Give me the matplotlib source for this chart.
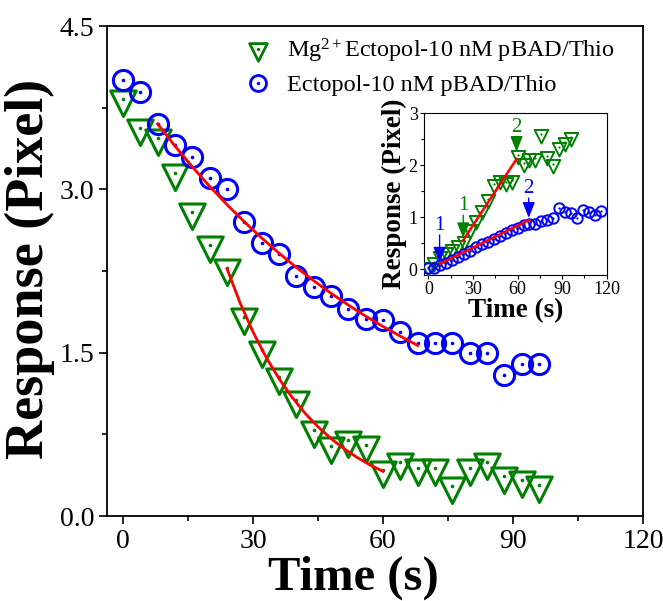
import matplotlib
matplotlib.use("Agg")
import matplotlib.pyplot as plt
from matplotlib.path import Path
from matplotlib.lines import Line2D
from matplotlib.legend_handler import HandlerTuple
from matplotlib.ticker import MultipleLocator

plt.rcParams['font.family'] = ['Liberation Serif', 'DejaVu Serif']
plt.rcParams['mathtext.fontset'] = 'custom'
plt.rcParams['mathtext.rm'] = 'Liberation Serif'
plt.rcParams['mathtext.it'] = 'Liberation Serif:italic'
plt.rcParams['mathtext.bf'] = 'Liberation Serif:bold'

# ---------------- main panel data ----------------
time_main = [0, 4, 8, 12, 16, 20, 24, 28, 32, 36, 40, 44, 48, 52, 56, 60, 64, 68, 72, 76, 80, 84, 88, 92, 96]
mg_resp = [3.83, 3.56, 3.47, 3.15, 2.79, 2.49, 2.275, 1.83, 1.525, 1.28, 1.067, 0.79, 0.64, 0.70, 0.654,
           0.425, 0.50, 0.44, 0.44, 0.28, 0.44, 0.50, 0.363, 0.327, 0.287]
ecto_resp = [4.00, 3.895, 3.596, 3.406, 3.30, 3.10, 3.00, 2.70, 2.505, 2.41, 2.20, 2.106, 2.02, 1.90, 1.81,
             1.80, 1.69, 1.59, 1.59, 1.59, 1.495, 1.495, 1.296, 1.394, 1.394]

# red fit curves
mg_fit_t = [24, 27, 30, 33, 36, 39, 42, 45, 48, 51, 54, 57, 60]
mg_fit_y = [2.27, 1.958, 1.690, 1.459, 1.261, 1.091, 0.944, 0.819, 0.711, 0.618, 0.538, 0.469, 0.410]
ecto_fit_t = [8, 12, 16, 20, 24, 28, 32, 36, 40, 44, 48, 52, 56, 60, 64, 68]
ecto_fit_y = [3.60, 3.397, 3.206, 3.027, 2.859, 2.701, 2.553, 2.414, 2.283, 2.161, 2.045, 1.937, 1.835,
              1.740, 1.651, 1.566]

# ---------------- inset data ----------------
time_in_mg = [0, 4, 8, 12, 16, 20, 24, 28, 32, 36, 40, 44, 48, 52, 56, 60, 64, 68, 72, 76, 80, 84, 88, 92, 96]
mg_in = [0.05, 0.15, 0.25, 0.33, 0.40, 0.47, 0.55, 0.78, 0.95, 1.15, 1.35, 1.65, 1.72, 1.68, 1.72,
         2.20, 2.05, 2.15, 2.15, 2.60, 2.18, 2.02, 2.35, 2.45, 2.55]
time_in_ecto = [0, 4, 8, 12, 16, 20, 24, 28, 32, 36, 40, 44, 48, 52, 56, 60, 64, 68, 72, 76, 80, 84, 88,
                92, 96, 100, 104, 108, 112, 116]
ecto_in = [0.02, 0.03, 0.08, 0.12, 0.18, 0.24, 0.30, 0.36, 0.42, 0.48, 0.53, 0.58, 0.64, 0.70, 0.75, 0.80,
           0.85, 0.88, 0.88, 0.92, 0.95, 0.98, 1.17, 1.10, 1.08, 0.98, 1.14, 1.10, 1.04, 1.12]
mg_in_fit_t = [23.4, 59.3]
mg_in_fit_y = [0.56, 2.12]
ecto_in_fit_t = [8.2, 67.8]
ecto_in_fit_y = [0.11, 0.95]

# arrows: label, x, tip y, label-bottom y, series
arrow_labels = ['1', '1', '2', '2']
arrow_x = [7.5, 23.4, 59.3, 67.5]
arrow_tip = [0.13, 0.60, 2.26, 0.99]
arrow_text_y = [0.66, 1.04, 2.55, 1.37]
arrow_series = ['ecto', 'mg', 'mg', 'ecto']

legend_labels = ['Mg$^{2+}$Ectopol-10 nM pBAD/Thio', 'Ectopol-10 nM pBAD/Thio']

GREEN = '#008000'
BLUE = '#0000ff'
RED = '#ff0000'

# triangle-down marker centred on its centroid
tri = Path([(-1, 2 / 3), (1, 2 / 3), (0, -4 / 3), (-1, 2 / 3)],
           [Path.MOVETO, Path.LINETO, Path.LINETO, Path.CLOSEPOLY])

W, H = 663, 601
fig = plt.figure(figsize=(W / 100, H / 100), dpi=100)
ax = fig.add_axes([107 / W, 1 - 516 / H, (643 - 107) / W, (516 - 26) / H])

ax.plot(time_main, mg_resp, ls='none', marker=tri, ms=24.5, mfc='none', mec=GREEN, mew=2.2, zorder=3)
ax.plot(time_main, mg_resp, ls='none', marker='o', ms=2.6, mfc=GREEN, mec=GREEN, mew=0, zorder=3)
ax.plot(time_main, ecto_resp, ls='none', marker='o', ms=14.5, mfc='none', mec=BLUE, mew=2.2, zorder=4)
ax.plot(time_main, ecto_resp, ls='none', marker='o', ms=2.6, mfc=BLUE, mec=BLUE, mew=0, zorder=4)
ax.plot(mg_fit_t, mg_fit_y, color=RED, lw=2.0, zorder=5)
ax.plot(ecto_fit_t, ecto_fit_y, color=RED, lw=2.0, zorder=5)

ax.set_xlim(-3.7, 120)
ax.set_ylim(0, 4.5)
ax.xaxis.set_major_locator(MultipleLocator(30))
ax.xaxis.set_minor_locator(MultipleLocator(15))
ax.yaxis.set_minor_locator(MultipleLocator(0.75))
ax.set_yticks([0, 1.5, 3.0, 4.5])
ax.set_yticklabels(['0.0', '1.5', '3.0', '4.5'])
ax.tick_params(which='major', direction='out', length=6, width=1.2, labelsize=20, pad=3)
ax.tick_params(which='minor', direction='out', length=3.5, width=1.2)
for s in ax.spines.values():
    s.set_linewidth(1.3)
ax.set_xlabel('Time (s)', fontsize=35, fontweight='bold', va='center')
ax.xaxis.set_label_coords((353 - 107) / 536, (516 - 578) / 490)
ax.set_ylabel('Response (Pixel)', fontsize=39, fontweight='bold', va='center')
ax.yaxis.set_label_coords((30 - 107) / 536, (516 - 269) / 490)

# legend
h1 = (Line2D([], [], ls='none', marker=tri, ms=17, mfc='none', mec=GREEN, mew=2.0),
      Line2D([], [], ls='none', marker='o', ms=2.4, mfc=GREEN, mec=GREEN, mew=0))
h2 = (Line2D([], [], ls='none', marker='o', ms=11.5, mfc='none', mec=BLUE, mew=2.0),
      Line2D([], [], ls='none', marker='o', ms=2.4, mfc=BLUE, mec=BLUE, mew=0))
fig.legend([h1, h2], legend_labels, handler_map={tuple: HandlerTuple(ndivide=1)},
           loc='upper left', bbox_to_anchor=(243 / W, 1 - 37 / H), bbox_transform=fig.transFigure,
           frameon=False, fontsize=17.5, handlelength=1.2, handletextpad=0.6,
           borderpad=0, borderaxespad=0, labelspacing=0.38)

# ---------------- inset ----------------
ai = fig.add_axes([424 / W, 1 - 274.5 / H, 182.7 / W, 161.2 / H])
ai.plot(time_in_mg, mg_in, ls='none', marker=tri, ms=13, mfc='none', mec=GREEN, mew=1.4, zorder=3)
ai.plot(time_in_mg, mg_in, ls='none', marker='o', ms=1.6, mfc=GREEN, mec=GREEN, mew=0, zorder=3)
ai.plot(time_in_ecto, ecto_in, ls='none', marker='o', ms=7.5, mfc='none', mec=BLUE, mew=1.4, zorder=4)
ai.plot(time_in_ecto, ecto_in, ls='none', marker='o', ms=1.6, mfc=BLUE, mec=BLUE, mew=0, zorder=4)
ai.plot(mg_in_fit_t, mg_in_fit_y, color=RED, lw=1.8, zorder=5)
ai.plot(ecto_in_fit_t, ecto_in_fit_y, color=RED, lw=1.8, zorder=5)

for lab, x, tip, ty, ser in zip(arrow_labels, arrow_x, arrow_tip, arrow_text_y, arrow_series):
    c = GREEN if ser == 'mg' else BLUE
    ai.text(x, ty, lab, color=c, fontsize=15, ha='center', va='bottom', zorder=6)
    ai.annotate('', xy=(x, tip), xytext=(x, ty),
                arrowprops=dict(arrowstyle='-|>,head_length=0.95,head_width=0.38', color=c,
                                lw=1.0, mutation_scale=10, shrinkA=0, shrinkB=0), zorder=6)

ai.set_xlim(-3, 120)
ai.set_ylim(-0.1, 3)
ai.xaxis.set_major_locator(MultipleLocator(30))
ai.xaxis.set_minor_locator(MultipleLocator(15))
ai.yaxis.set_major_locator(MultipleLocator(1))
ai.yaxis.set_minor_locator(MultipleLocator(0.5))
ai.tick_params(which='major', direction='out', length=3, width=0.8, labelsize=13, pad=1.5)
ai.tick_params(which='minor', direction='out', length=2, width=0.8)
for s in ai.spines.values():
    s.set_linewidth(0.8)
ai.set_xlabel('Time (s)', fontsize=19.5, fontweight='bold', labelpad=0)
ai.set_ylabel('Response (Pixel)', fontsize=19.5, fontweight='bold', labelpad=1)

fig.savefig('out.png', dpi=100)
